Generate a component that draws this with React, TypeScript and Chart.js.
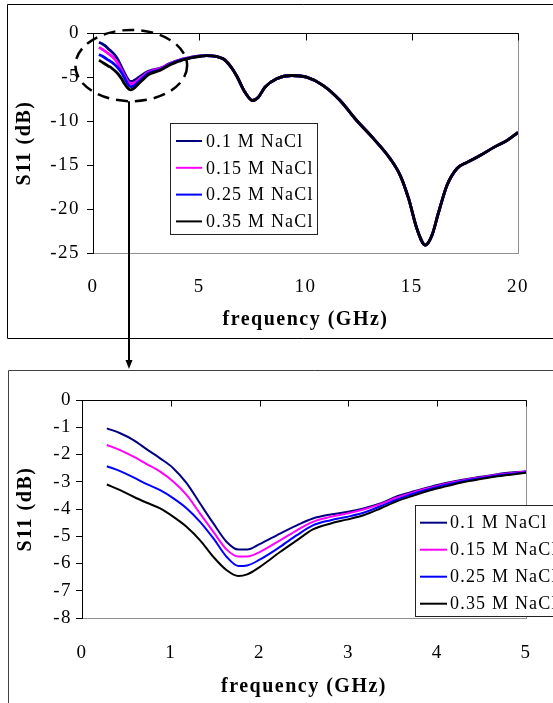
import React, { useEffect, useRef } from 'react';
import { Chart, registerables } from 'chart.js';

Chart.register(...registerables);

const FONT = '"Liberation Serif", "Times New Roman", serif';

// ---- data ----
const seriesLabels = ['0.1 M NaCl', '0.15 M NaCl', '0.25 M NaCl', '0.35 M NaCl'];
const seriesColors = ['#000080', '#FF00FF', '#0000FF', '#000000'];

// low-frequency part (0.3 - 5 GHz), where the four concentrations differ
const freqLow = [0.28, 0.43, 0.58, 0.73, 0.88, 1.03, 1.18, 1.33, 1.48, 1.63, 1.76, 1.86, 2.0, 2.23, 2.42, 2.6, 2.8, 2.98, 3.17, 3.36, 3.55, 3.74, 3.92, 4.11, 4.3, 4.49, 4.68, 5.0];
const s11Low01 = [-1.04, -1.22, -1.47, -1.81, -2.14, -2.51, -3.06, -3.8, -4.53, -5.21, -5.49, -5.49, -5.29, -4.9, -4.6, -4.35, -4.2, -4.11, -3.98, -3.8, -3.53, -3.35, -3.19, -3.04, -2.92, -2.82, -2.72, -2.61];
const s11Low015 = [-1.65, -1.84, -2.08, -2.35, -2.63, -3.0, -3.49, -4.17, -4.84, -5.49, -5.74, -5.74, -5.58, -5.15, -4.78, -4.47, -4.29, -4.17, -4.02, -3.82, -3.58, -3.38, -3.22, -3.06, -2.94, -2.84, -2.74, -2.62];
const s11Low025 = [-2.43, -2.61, -2.84, -3.09, -3.31, -3.61, -3.98, -4.47, -5.08, -5.76, -6.09, -6.07, -5.86, -5.39, -4.96, -4.6, -4.41, -4.29, -4.14, -3.9, -3.65, -3.43, -3.26, -3.1, -2.97, -2.87, -2.77, -2.65];
const s11Low035 = [-3.1, -3.31, -3.55, -3.77, -3.98, -4.29, -4.66, -5.15, -5.76, -6.25, -6.46, -6.4, -6.13, -5.58, -5.15, -4.75, -4.53, -4.39, -4.23, -3.98, -3.71, -3.5, -3.31, -3.16, -3.01, -2.9, -2.8, -2.67];

// high-frequency part (5.3 - 20 GHz), where all curves overlap
const freqHigh = [5.34, 6.12, 6.44, 6.75, 7.15, 7.51, 7.78, 8.09, 8.64, 9.35, 10.05, 10.84, 11.63, 12.41, 13.2, 13.99, 14.46, 14.85, 15.25, 15.64, 15.95, 16.26, 16.66, 17.13, 17.6, 18.23, 18.86, 19.49, 20.0];
const s11High = [-2.56, -2.93, -3.69, -4.83, -6.72, -7.67, -7.3, -6.16, -5.2, -4.83, -5.02, -5.97, -7.67, -9.94, -12.0, -14.3, -16.2, -18.8, -22.3, -24.1, -23.0, -20.4, -17.3, -15.4, -14.7, -13.9, -13.0, -12.2, -11.3];

const seriesLow = [s11Low01, s11Low015, s11Low025, s11Low035];

// tick labels
const topXTicks = [0, 5, 10, 15, 20];
const topYTicks = [-25, -20, -15, -10, -5, 0];
const zoomXTicks = [0, 1, 2, 3, 4, 5];
const zoomYTicks = [-8, -7, -6, -5, -4, -3, -2, -1, 0];

// highlighted region on the full chart (data units) and arrow position
const highlight = { cx: 1.8, cy: -3.7, rx: 2.63, ry: 4.05, arrowX: 1.7 };

// ---- plugins ----
const spacingPlugin = {
  id: 'spacing',
  beforeLayout(chart: any, _a: any, opts: any) { chart.ctx.letterSpacing = opts.value || '0px'; },
  beforeDraw(chart: any, _a: any, opts: any) { chart.ctx.letterSpacing = opts.value || '0px'; },
};

const framePlugin = {
  id: 'frame',
  beforeDraw(chart: any, _a: any, o: any) {
    const { ctx, width, height } = chart;
    ctx.save();
    ctx.strokeStyle = o.color;
    ctx.lineWidth = 1;
    ctx.beginPath();
    ctx.moveTo(width, o.top);
    ctx.lineTo(o.left, o.top);
    ctx.lineTo(o.left, o.bottom == null ? height : o.bottom);
    if (o.bottom != null) ctx.lineTo(width, o.bottom);
    ctx.stroke();
    ctx.restore();
  },
};

const axisDecorPlugin = {
  id: 'axisDecor',
  afterDraw(chart: any, _a: any, o: any) {
    const { ctx, chartArea } = chart;
    const xs = chart.scales.x;
    ctx.save();
    ctx.strokeStyle = '#909090';
    ctx.lineWidth = 1;
    ctx.beginPath();
    ctx.moveTo(Math.round(chartArea.right) + 0.5, chartArea.top);
    ctx.lineTo(Math.round(chartArea.right) + 0.5, chartArea.bottom);
    ctx.stroke();
    ctx.strokeStyle = '#000';
    ctx.beginPath();
    const ty = Math.round(chartArea.top) + 0.5;
    ctx.moveTo(chartArea.left, ty);
    ctx.lineTo(chartArea.right + 0.5, ty);
    xs.ticks.forEach((t: any) => {
      const px = Math.round(xs.getPixelForValue(t.value)) + 0.5;
      ctx.moveTo(px, ty);
      ctx.lineTo(px, ty + o.tickLen);
    });
    ctx.stroke();
    ctx.restore();
  },
};

const boxLegendPlugin = {
  id: 'boxLegend',
  afterDraw(chart: any, _a: any, o: any) {
    const { ctx } = chart;
    ctx.save();
    ctx.fillStyle = '#fff';
    ctx.fillRect(o.x, o.y, o.w, o.h);
    ctx.strokeStyle = '#222';
    ctx.lineWidth = 1;
    ctx.strokeRect(o.x + 0.5, o.y + 0.5, o.w, o.h);
    ctx.letterSpacing = '1.2px';
    ctx.font = `18px ${FONT}`;
    ctx.textBaseline = 'middle';
    ctx.textAlign = 'left';
    chart.data.datasets.forEach((ds: any, i: number) => {
      const cy = o.y + o.firstRow + i * o.rowGap;
      ctx.strokeStyle = ds.borderColor;
      ctx.lineWidth = 2;
      ctx.beginPath();
      ctx.moveTo(o.x + o.lineStart, cy);
      ctx.lineTo(o.x + o.lineEnd, cy);
      ctx.stroke();
      ctx.fillStyle = '#000';
      ctx.fillText(ds.label, o.x + o.textStart, cy + 1);
    });
    ctx.restore();
  },
};

const highlightPlugin = {
  id: 'highlight',
  afterDraw(chart: any, _a: any, o: any) {
    const { ctx } = chart;
    const xs = chart.scales.x;
    const ys = chart.scales.y;
    const cx = xs.getPixelForValue(highlight.cx);
    const cy = ys.getPixelForValue(highlight.cy);
    const rx = xs.getPixelForValue(highlight.cx + highlight.rx) - cx;
    const ry = ys.getPixelForValue(highlight.cy - highlight.ry) - cy;
    ctx.save();
    ctx.strokeStyle = '#000';
    ctx.lineWidth = 2.5;
    ctx.setLineDash([12, 7]);
    ctx.beginPath();
    ctx.ellipse(cx, cy, rx, ry, 0, 0, Math.PI * 2);
    ctx.stroke();
    ctx.setLineDash([]);
    const ax = Math.round(xs.getPixelForValue(highlight.arrowX));
    const startY = cy + ry;
    const endY = o.arrowEnd;
    ctx.lineWidth = 2;
    ctx.beginPath();
    ctx.moveTo(ax, startY);
    ctx.lineTo(ax, endY - 6);
    ctx.stroke();
    ctx.fillStyle = '#000';
    ctx.beginPath();
    ctx.moveTo(ax - 3.5, endY - 9);
    ctx.lineTo(ax + 3.5, endY - 9);
    ctx.lineTo(ax, endY);
    ctx.closePath();
    ctx.fill();
    ctx.restore();
  },
};

function tickSetter(values: number[]) {
  return (s: any) => { s.ticks = values.map((v) => ({ value: v })); };
}

function makeDatasets(full: boolean, width: number) {
  return seriesLabels.map((label, i) => {
    const xs = full ? freqLow.concat(freqHigh) : freqLow;
    const ys = full ? seriesLow[i].concat(s11High) : seriesLow[i];
    return {
      label,
      data: xs.map((x, k) => ({ x, y: ys[k] })),
      borderColor: seriesColors[i],
      backgroundColor: seriesColors[i],
      borderWidth: width,
      pointRadius: 0,
      fill: false,
      order: seriesLabels.length - 1 - i,
      cubicInterpolationMode: 'monotone' as const,
    };
  });
}

function baseScales(p: any) {
  return {
    x: {
      type: 'linear',
      min: p.xMin, max: p.xMax,
      afterBuildTicks: tickSetter(p.xTicks),
      afterFit: (s: any) => { s.height = p.xHeight; },
      grid: { display: false, drawTicks: false },
      border: { display: true, color: '#909090', width: 1 },
      ticks: { color: '#000', font: { family: FONT, size: 19 }, padding: p.xPad, maxRotation: 0, autoSkip: false },
      title: { display: true, text: 'frequency (GHz)', color: '#000', font: { family: FONT, size: 20, weight: 'bold' }, padding: { top: 0, bottom: p.xTitlePad } },
    },
    y: {
      type: 'linear',
      min: p.yMin, max: p.yMax,
      afterBuildTicks: tickSetter(p.yTicks),
      afterFit: (s: any) => { s.width = p.yWidth; },
      grid: { display: true, drawOnChartArea: false, drawTicks: true, tickLength: 6, color: '#000' },
      border: { display: true, color: '#000', width: 1 },
      ticks: { color: '#000', font: { family: FONT, size: 19 }, padding: p.yPad },
      title: { display: true, text: 'S11 (dB)', color: '#000', font: { family: FONT, size: 20, weight: 'bold' }, padding: { top: p.yTitlePad, bottom: 0 } },
    },
  };
}

export default function App() {
  const topRef = useRef<HTMLCanvasElement>(null);
  const botRef = useRef<HTMLCanvasElement>(null);

  useEffect(() => {
    const top = new Chart(topRef.current as HTMLCanvasElement, {
      type: 'line',
      data: { datasets: makeDatasets(true, 2.8) as any },
      plugins: [spacingPlugin, framePlugin, axisDecorPlugin, boxLegendPlugin, highlightPlugin],
      options: {
        responsive: false,
        animation: false,
        devicePixelRatio: 1,
        layout: { padding: { top: 33, right: 82, bottom: 0, left: 0 } },
        scales: baseScales({
          xMin: 0, xMax: 20, xTicks: topXTicks, xHeight: 117, xPad: 23, xTitlePad: 38,
          yMin: -25, yMax: 0, yTicks: topYTicks, yWidth: 93, yPad: 7, yTitlePad: 13,
        }) as any,
        plugins: {
          legend: { display: false },
          tooltip: { enabled: false },
          spacing: { value: '1.5px' },
          frame: { left: 7.5, top: 4.5, bottom: 338.5, color: '#000' },
          axisDecor: { tickLen: 7 },
          boxLegend: { x: 170, y: 123, w: 147, h: 111, firstRow: 18, rowGap: 26.8, lineStart: 6, lineEnd: 32, textStart: 36 },
          highlight: { arrowEnd: 369 },
        } as any,
      },
    } as any);

    const bot = new Chart(botRef.current as HTMLCanvasElement, {
      type: 'line',
      data: { datasets: makeDatasets(false, 2) as any },
      plugins: [spacingPlugin, framePlugin, axisDecorPlugin, boxLegendPlugin],
      options: {
        responsive: false,
        animation: false,
        devicePixelRatio: 1,
        layout: { padding: { top: 40, right: 94, bottom: 0, left: 0 } },
        scales: baseScales({
          xMin: 0, xMax: 5, xTicks: zoomXTicks, xHeight: 85, xPad: 24, xTitlePad: 4,
          yMin: -8, yMax: 0, yTicks: zoomYTicks, yWidth: 82, yPad: 4, yTitlePad: 14,
        }) as any,
        plugins: {
          legend: { display: false },
          tooltip: { enabled: false },
          spacing: { value: '1.5px' },
          frame: { left: 8.5, top: 10.5, bottom: null, color: '#404040' },
          axisDecor: { tickLen: 6 },
          boxLegend: { x: 415, y: 145, w: 147, h: 111, firstRow: 17.7, rowGap: 27, lineStart: 5, lineEnd: 32, textStart: 35 },
        } as any,
      },
    } as any);

    return () => { top.destroy(); bot.destroy(); };
  }, []);

  return (
    <div style={{ position: 'absolute', left: 0, top: 0, width: 553, height: 703, overflow: 'hidden', background: '#fff' }}>
      <canvas ref={topRef} width={600} height={370} style={{ position: 'absolute', left: 0, top: 0, width: 600, height: 370 }} />
      <canvas ref={botRef} width={620} height={343} style={{ position: 'absolute', left: 0, top: 360, width: 620, height: 343 }} />
    </div>
  );
}
